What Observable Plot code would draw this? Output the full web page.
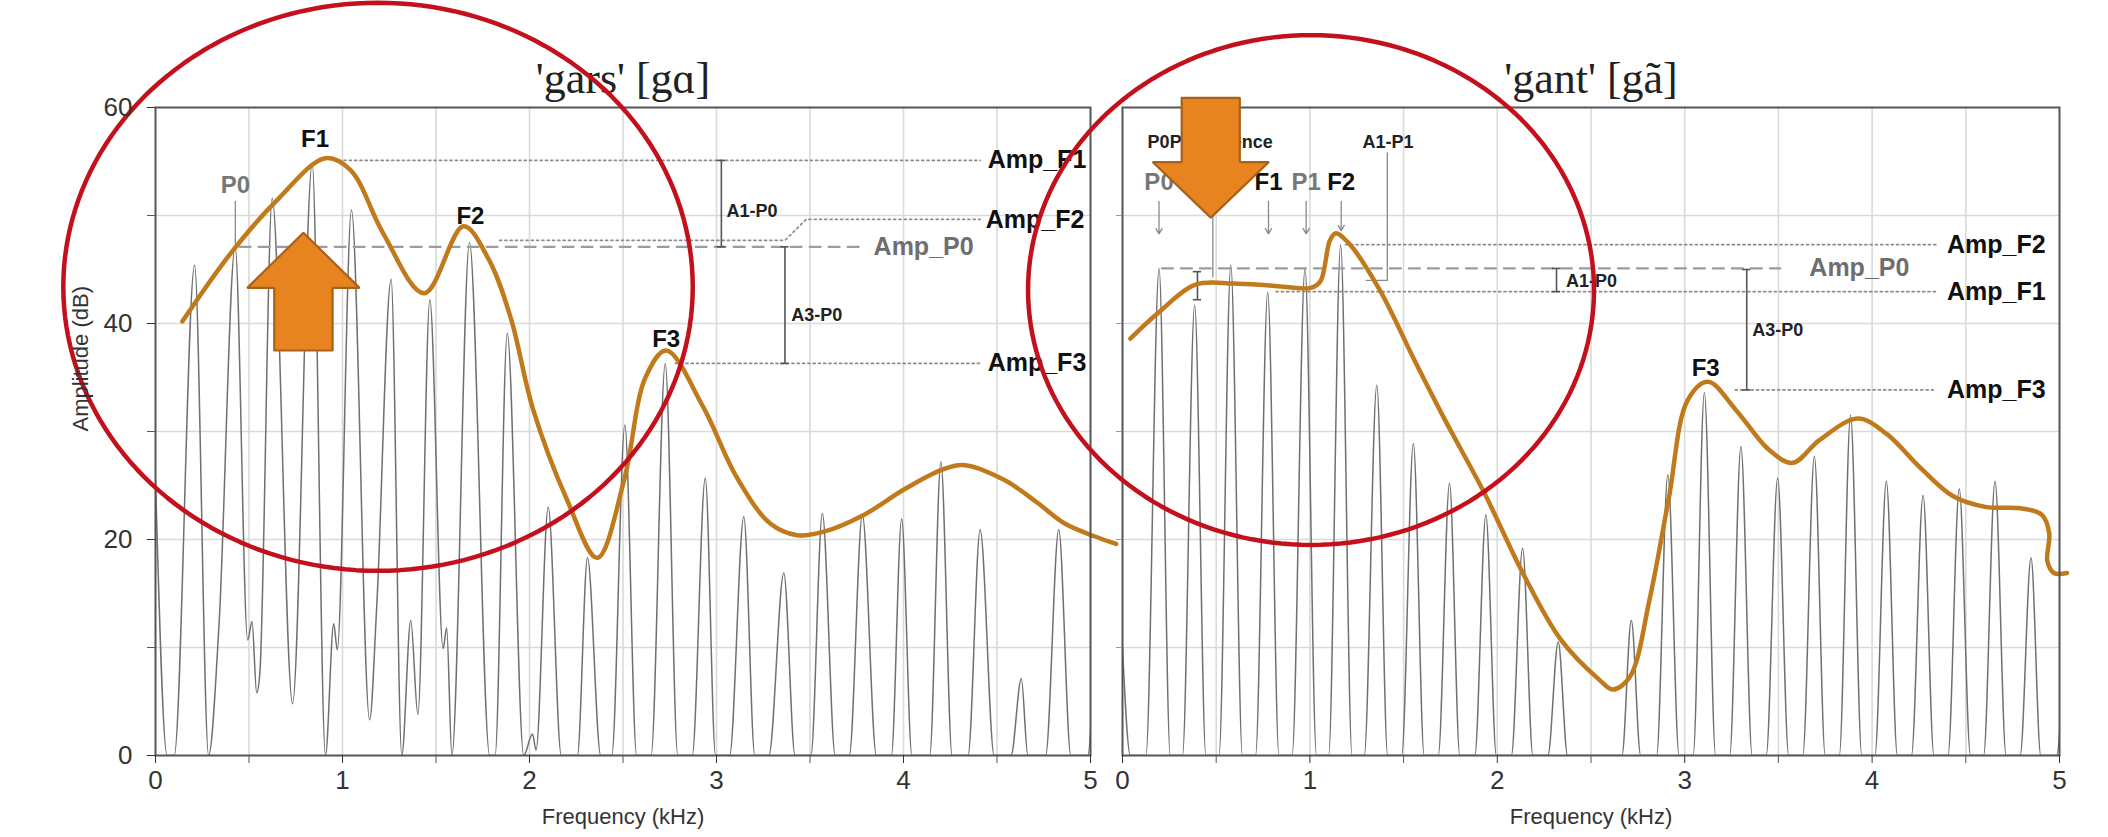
<!DOCTYPE html>
<html><head><meta charset="utf-8">
<script src="https://cdn.jsdelivr.net/npm/d3@7"></script>
<script src="https://cdn.jsdelivr.net/npm/@observablehq/plot@0.6"></script>
<style>
html,body{margin:0;padding:0;background:#fff;}
#wrap{position:relative;width:2108px;height:837px;overflow:hidden;background:#fff;}
#wrap svg{position:absolute;top:0;overflow:visible;}
</style></head><body><div id="wrap"></div>
<script>
// ---------- axes ----------
const freqTicks = [0, 1, 2, 3, 4, 5];
const freqMinorTicks = [0.5, 1.5, 2.5, 3.5, 4.5];
const freqGrid = [0.5, 1, 1.5, 2, 2.5, 3, 3.5, 4, 4.5];
const ampTicks = [0, 20, 40, 60];
const ampMinorTicks = [10, 30, 50];
const ampGrid = [10, 20, 30, 40, 50];
const xLabel = "Frequency (kHz)";
const yLabel = "Amplitude (dB)";
const panelTitles = ["'gars' [gɑ]", "'gant' [gã]"];

// ---------- 'gars' spectrum (harmonic peaks and troughs, kHz / dB) ----------
const garsSpecFreq = [0.000,0.062,0.100,0.209,0.284,0.340,0.426,0.493,0.516,0.541,0.558,0.624,0.733,0.838,0.909,0.953,0.972,1.048,1.145,1.183,1.260,1.317,1.365,1.403,1.467,1.538,1.557,1.585,1.679,1.787,1.816,1.881,1.969,2.016,2.035,2.100,2.170,2.256,2.310,2.381,2.440,2.510,2.573,2.650,2.726,2.793,2.870,2.940,2.995,3.070,3.146,3.205,3.280,3.360,3.420,3.505,3.566,3.635,3.710,3.780,3.855,3.935,3.990,4.045,4.140,4.200,4.260,4.345,4.410,4.485,4.575,4.630,4.665,4.760,4.830,4.895,4.985,5.020];
const garsSpecAmp  = [25.5,0,0,45.4,0,12.2,47.1,10.7,12.4,5.8,7.6,51.6,4.8,54.8,0,12.2,9.8,50.5,3.3,13.8,44.1,0,12.5,3.8,42.2,9.9,11.8,0,47.5,0,0,39.1,0,2.0,0.5,23.0,0,0,18.3,0,0,30.6,0,0,36.3,0,0,25.7,0,0,22.1,0,0,16.9,0,0,22.4,0,0,22.3,0,0,21.9,0,0,27.2,0,0,20.9,0,0,7.1,0,0,20.9,0,0,9.0];
// 'gars' smoothed envelope
const garsEnvFreq = [0.144,0.402,0.649,0.908,1.043,1.216,1.437,1.647,1.783,1.900,2.020,2.200,2.362,2.506,2.620,2.731,2.928,3.107,3.286,3.430,3.570,3.790,4.000,4.198,4.320,4.540,4.716,4.860,5.020,5.137];
const garsEnvAmp  = [40.2,46.5,51.4,55.3,54.2,48.4,42.8,49.0,45.9,40.5,32.0,23.7,18.3,25.5,35.0,37.5,32.3,25.8,21.5,20.4,20.7,22.3,24.6,26.4,26.9,25.5,23.4,21.5,20.3,19.6];

// ---------- 'gant' spectrum ----------
const gantSpecFreq = [0.000,0.042,0.125,0.195,0.255,0.320,0.385,0.445,0.515,0.578,0.640,0.710,0.775,0.835,0.905,0.974,1.035,1.100,1.164,1.225,1.290,1.357,1.415,1.490,1.552,1.610,1.685,1.745,1.800,1.880,1.939,1.995,2.075,2.135,2.190,2.270,2.325,2.375,2.665,2.715,2.765,2.850,2.910,2.970,3.045,3.105,3.165,3.240,3.300,3.360,3.435,3.496,3.555,3.630,3.692,3.750,3.825,3.885,3.945,4.015,4.076,4.135,4.210,4.272,4.330,4.405,4.465,4.525,4.595,4.656,4.715,4.790,4.848,4.900,4.985,5.010];
const gantSpecAmp  = [10,0,0,45.1,0,0,41.7,0,0,45.4,0,0,42.9,0,0,45.1,0,0,47.3,0,0,34.3,0,0,28.9,0,0,25.2,0,0,22.3,0,0,19.2,0,0,10.5,0,0,12.5,0,0,26.0,0,0,33.6,0,0,28.6,0,0,25.7,0,0,27.7,0,0,31.5,0,0,25.4,0,0,24.1,0,0,24.7,0,0,25.4,0,0,18.3,0,0,4.5];
const gantEnvFreq = [0.042,0.185,0.390,0.594,0.800,1.004,1.056,1.107,1.138,1.209,1.373,1.558,1.720,1.931,2.136,2.340,2.545,2.617,2.708,2.812,2.914,3.016,3.124,3.273,3.450,3.576,3.719,3.924,4.076,4.254,4.433,4.611,4.790,4.905,4.945,4.935,4.970,5.040];
const gantEnvAmp  = [38.6,40.9,43.6,43.7,43.5,43.3,43.9,47.7,48.35,47.4,43.1,36.6,31.1,24.3,16.9,10.7,7.0,6.1,7.3,14.4,23.7,32.9,34.6,32.0,28.3,27.1,29.2,31.2,29.8,26.7,24.0,23.0,22.9,22.3,20.6,18.0,16.9,16.9];

// ---------- annotations (data units) ----------
const garsDotted = [["F1",0.98,55.1],["F1",4.41,55.1],["F2",1.84,47.7],["F2",3.366,47.7],["F2",3.48,49.65],["F2",4.41,49.65],["F3",2.78,36.3],["F3",4.41,36.3]];
const garsDashed = [["P0",0.45,47.1],["P0",3.77,47.1]];
const garsLeaders = [["p0",0.427,51.3],["p0",0.427,47.4]];
const garsBars = [[3.026,55.1,47.1],[3.366,47.1,36.3]];
const garsPointers = [];
const garsFormantLabels = [["F1",0.853,57.1],["F2",1.684,49.9],["F3",2.731,38.5]];
const garsPeakLabels = [["P0",0.427,52.8]];
const garsAmpLabels = [["Amp_F1",4.45,55.1],["Amp_F2",4.44,49.6],["Amp_F3",4.45,36.3]];
const garsAmpP0Labels = [["Amp_P0",3.84,47.1]];
const garsMeasureLabels = [["A1-P0",3.053,50.35],["A3-P0",3.40,40.8]];
const garsCircle = [1.19, 43.4, 1.683, 26.3];         // cx, cy, rx, ry
const garsArrow = [0.791, 37.5, 43.3, 48.4, 0.30, 0.156]; // x, tail, head base, tip, head half, shaft half

const gantDotted = [["F2",1.19,47.3],["F2",4.34,47.3],["F1",0.82,42.95],["F1",4.34,42.95],["F3",3.27,33.85],["F3",4.34,33.85]];
const gantDashed = [["P0",0.21,45.1],["P0",3.51,45.1]];
const gantLeaders = [["pp",0.482,55.5],["pp",0.482,44.3],["a1p1",1.30,44.0],["a1p1",1.413,44.0],["a1p1",1.413,55.8]];
const gantBars = [[2.316,45.1,42.95],[3.331,45.0,33.85],[0.40,44.8,42.2]];
const gantPointers = [[0.195,51.3,48.3],[0.779,51.3,48.3],[0.98,51.3,48.3],[1.167,51.3,48.6]];
const gantFormantLabels = [["F1",0.779,53.1],["F2",1.167,53.1],["F3",3.112,35.85]];
const gantPeakLabels = [["P0",0.195,53.1],["P1",0.98,53.1]];
const gantAmpLabels = [["Amp_F2",4.40,47.3],["Amp_F1",4.40,42.95],["Amp_F3",4.40,33.85]];
const gantAmpP0Labels = [["Amp_P0",3.665,45.1]];
const gantMeasureLabels = [["P0Prominence",0.134,56.8],["A1-P1",1.281,56.8],["A1-P0",2.366,43.9],["A3-P0",3.36,39.4]];
const gantCircle = [1.006, 43.1, 1.51, 23.6];
const gantArrow = [0.471, 60.9, 54.95, 49.8, 0.31, 0.155];

// ---------- helpers ----------
const SANS = "'Liberation Sans', Arial, Helvetica, sans-serif";
const SERIF = "'Liberation Serif', 'Times New Roman', serif";
const zip = (fs, as) => fs.map((f, i) => ({f, a: as[i]}));
const pts = arr => arr.map(([g, x, y]) => ({g, x, y}));
const lbl = arr => arr.map(([t, x, y]) => ({t, x, y}));
function ellipse([cx, cy, rx, ry]) {
  return d3.range(0, 361, 2).map(t => ({x: cx + rx * Math.cos(t * Math.PI / 180), y: cy + ry * Math.sin(t * Math.PI / 180)}));
}
function arrowPoly([x, tail, base, tip, hh, sh]) {
  return [[x - sh, tail], [x - sh, base], [x - hh, base], [x, tip], [x + hh, base], [x + sh, base], [x + sh, tail], [x - sh, tail]].map(([px, py]) => ({x: px, y: py}));
}

function makePanel(p) {
  const bars = p.bars.map(([x, y1, y2]) => ({x, y1, y2}));
  const caps = bars.flatMap(b => [{x: b.x, y: b.y1}, {x: b.x, y: b.y2}]);
  const ptrs = p.pointers.map(([x, y1, y2]) => ({x, y1, y2}));
  const marks = [
    Plot.gridX(freqGrid, {stroke: "#dadada", strokeOpacity: 1, strokeWidth: 1.6}),
    Plot.gridY(ampGrid, {stroke: "#dadada", strokeOpacity: 1, strokeWidth: 1.6}),
    Plot.line(zip(p.specF, p.specA), {x: "f", y: "a", curve: "monotone-x", stroke: "#707070", strokeWidth: 1.5, clip: true}),
    Plot.line(pts(p.dashed), {x: "x", y: "y", z: "g", stroke: "#9c9c9c", strokeWidth: 2.2, strokeDasharray: "11,8"}),
    Plot.line(pts(p.dotted), {x: "x", y: "y", z: "g", stroke: "#8c8c8c", strokeWidth: 1.7, strokeDasharray: "2,3.3"}),
    Plot.line(pts(p.leaders), {x: "x", y: "y", z: "g", stroke: "#8a8a8a", strokeWidth: 1.3}),
    Plot.ruleX(bars, {x: "x", y1: "y1", y2: "y2", stroke: "#555", strokeWidth: 1.6}),
    Plot.ruleY(caps, {y: "y", x1: d => d.x - 0.022, x2: d => d.x + 0.022, stroke: "#555", strokeWidth: 1.6}),
    Plot.arrow(ptrs, {x1: "x", x2: "x", y1: "y1", y2: "y2", stroke: "#8a8a8a", strokeWidth: 1.3, headLength: 7}),
    Plot.line(zip(p.envF, p.envA), {x: "f", y: "a", curve: "catmull-rom", stroke: "#c17a1b", strokeWidth: 4.5, strokeLinecap: "round"}),
    Plot.text(lbl(p.formantLabels), {x: "x", y: "y", text: "t", fontSize: 24, fontWeight: "bold", fill: "#111", fontFamily: SANS}),
    Plot.text(lbl(p.peakLabels), {x: "x", y: "y", text: "t", fontSize: 24, fontWeight: "bold", fill: "#777", fontFamily: SANS}),
    Plot.text(lbl(p.ampLabels), {x: "x", y: "y", text: "t", fontSize: 25, fontWeight: "bold", fill: "#111", textAnchor: "start", fontFamily: SANS}),
    Plot.text(lbl(p.ampP0Labels), {x: "x", y: "y", text: "t", fontSize: 25, fontWeight: "bold", fill: "#6e6e6e", textAnchor: "start", fontFamily: SANS}),
    Plot.text(lbl(p.measureLabels), {x: "x", y: "y", text: "t", fontSize: 18, fontWeight: "bold", fill: "#222", textAnchor: "start", fontFamily: SANS}),
    Plot.frame({stroke: "#555", strokeWidth: 2}),
    Plot.axisX(freqTicks, {tickSize: 8, tickPadding: 7, fontSize: 26, color: "#333", label: null, tickFormat: d3.format("d"), fontFamily: SANS}),
    Plot.axisX(freqMinorTicks, {tickSize: 8, tickFormat: () => "", label: null, color: "#555"}),
    Plot.text([xLabel], {frameAnchor: "bottom", dy: 68, fontSize: 22, fill: "#333", fontFamily: SANS}),
    Plot.text([p.title], {frameAnchor: "top", dy: -46, fontSize: 44, fill: "#222", fontFamily: SERIF}),
    Plot.line(ellipse(p.circle), {x: "x", y: "y", stroke: "#c3101c", strokeWidth: 4.5}),
    Plot.line(arrowPoly(p.arrow), {x: "x", y: "y", fill: "#e8841f", stroke: "#a9611a", strokeWidth: 2.2, strokeLinejoin: "miter"})
  ];
  if (p.yLabels) {
    marks.push(
      Plot.axisY(ampTicks, {tickSize: 8, tickPadding: 15, fontSize: 26, color: "#333", label: null, tickFormat: d3.format("d"), fontFamily: SANS}),
      Plot.axisY(ampMinorTicks, {tickSize: 8, tickFormat: () => "", label: null, color: "#555"}),
      Plot.text([yLabel], {frameAnchor: "left", dx: -75, rotate: -90, fontSize: 22, fill: "#333", fontFamily: SANS})
    );
  } else {
    marks.push(Plot.axisY(ampGrid, {tickSize: 6, tickFormat: () => "", label: null, color: "#999"}));
  }
  const svg = Plot.plot({
    width: p.width, height: 837,
    marginLeft: p.marginLeft, marginRight: p.marginRight, marginTop: 107, marginBottom: 82,
    x: {domain: [0, 5]}, y: {domain: [0, 60]},
    style: {overflow: "visible", background: "none", fontFamily: SANS},
    marks
  });
  svg.style.left = p.left + "px";
  return svg;
}

const wrap = document.getElementById("wrap");
wrap.appendChild(makePanel({
  title: panelTitles[0], left: 0, width: 1106, marginLeft: 155, marginRight: 16, yLabels: true,
  specF: garsSpecFreq, specA: garsSpecAmp, envF: garsEnvFreq, envA: garsEnvAmp,
  dotted: garsDotted, dashed: garsDashed, leaders: garsLeaders, bars: garsBars, pointers: garsPointers,
  formantLabels: garsFormantLabels, peakLabels: garsPeakLabels, ampLabels: garsAmpLabels,
  ampP0Labels: garsAmpP0Labels, measureLabels: garsMeasureLabels, circle: garsCircle, arrow: garsArrow
}));
wrap.appendChild(makePanel({
  title: panelTitles[1], left: 1106, width: 1002, marginLeft: 16, marginRight: 49, yLabels: false,
  specF: gantSpecFreq, specA: gantSpecAmp, envF: gantEnvFreq, envA: gantEnvAmp,
  dotted: gantDotted, dashed: gantDashed, leaders: gantLeaders, bars: gantBars, pointers: gantPointers,
  formantLabels: gantFormantLabels, peakLabels: gantPeakLabels, ampLabels: gantAmpLabels,
  ampP0Labels: gantAmpP0Labels, measureLabels: gantMeasureLabels, circle: gantCircle, arrow: gantArrow
}));
</script></body></html>
